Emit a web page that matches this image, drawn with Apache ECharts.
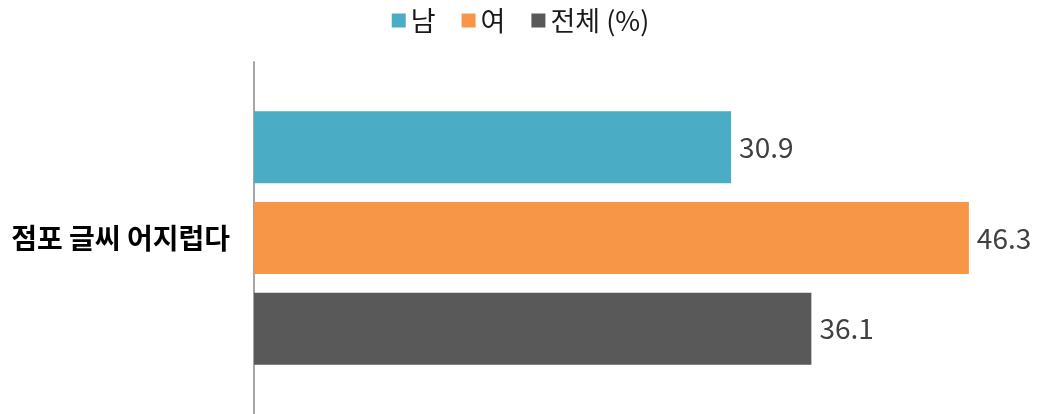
<!DOCTYPE html>
<html>
<head>
<meta charset="utf-8">
<script src="https://cdn.jsdelivr.net/npm/echarts@6/dist/echarts.min.js"></script>
<style>
  html, body { margin: 0; padding: 0; background: #fff; }
  #main { width: 1041px; height: 414px; }
</style>
</head>
<body>
<div id="main"></div>
<script>
var categories = ['점포 글씨 어지럽다'];
var seriesNames = ['남', '여', '전체'];
var maleValues = [30.9];
var femaleValues = [46.3];
var totalValues = [36.1];

var myChart = echarts.init(document.getElementById('main'));
var font = "'Noto Sans CJK KR', 'Noto Sans', sans-serif";

var barLabel = {
    show: true,
    position: 'right',
    distance: 8,
    color: '#404040',
    fontSize: 28,
    fontFamily: font
};

option = {
    animation: false,
    color: ['#4bacc6', '#f79646', '#595959'],
    legend: {
        top: 2,
        left: 'center',
        itemWidth: 14,
        itemHeight: 14,
        itemGap: 26,
        icon: 'rect',
        textStyle: {
            fontSize: 27,
            color: '#1a1a1a',
            fontFamily: font
        },
        formatter: function (name) {
            return name === '전체' ? name + ' (%)' : name;
        },
        data: seriesNames
    },
    grid: {
        left: 254,
        right: 15,
        top: 62,
        bottom: 0,
        containLabel: false
    },
    xAxis: {
        type: 'value',
        min: 0,
        max: 50,
        show: false
    },
    yAxis: {
        type: 'category',
        inverse: true,
        data: categories,
        axisLine: { show: true, lineStyle: { color: '#a6a6a6', width: 2 } },
        axisTick: { show: false },
        axisLabel: {
            margin: 24,
            fontSize: 28,
            fontWeight: 'bold',
            color: '#000',
            fontFamily: font
        }
    },
    series: [
        {
            name: seriesNames[0],
            type: 'bar',
            barWidth: 72,
            barGap: '26%',
            label: barLabel,
            data: maleValues
        },
        {
            name: seriesNames[1],
            type: 'bar',
            barWidth: 72,
            barGap: '26%',
            label: barLabel,
            data: femaleValues
        },
        {
            name: seriesNames[2],
            type: 'bar',
            barWidth: 72,
            barGap: '26%',
            label: barLabel,
            data: totalValues
        }
    ]
};
myChart.setOption(option);
</script>
</body>
</html>
